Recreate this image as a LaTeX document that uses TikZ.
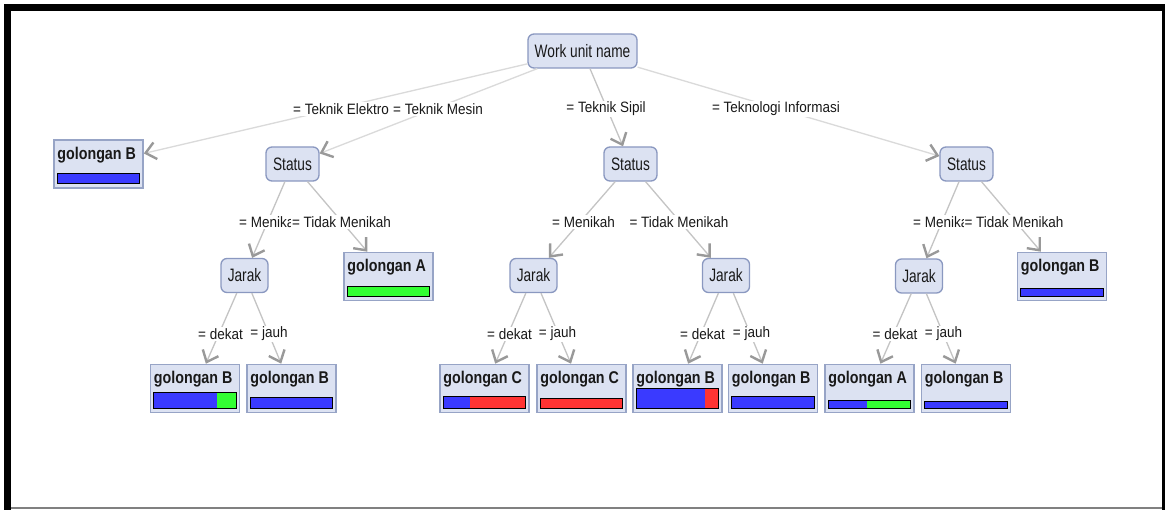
\documentclass[tikz,border=0pt]{standalone}
\usepackage{fontspec}
\setmainfont{Liberation Sans}
\newfontfamily\nfont[FakeStretch=0.76]{Liberation Sans}
\newfontfamily\lfont[FakeStretch=0.9]{Liberation Sans}
\newfontfamily\bfont[FakeStretch=0.84]{Liberation Sans}
\usetikzlibrary{arrows.meta,calc}
\definecolor{nodefill}{HTML}{DCE2F2}
\definecolor{nodedraw}{HTML}{8A98C0}
\definecolor{leafdraw}{HTML}{97A4C6}
\definecolor{barblue}{HTML}{3A3AFF}
\definecolor{bargreen}{HTML}{33FF33}
\definecolor{barred}{HTML}{FF3333}
\definecolor{edgecol}{HTML}{C4C4C4}
\definecolor{edgelight}{HTML}{DADADA}
\definecolor{arrowcol}{HTML}{999999}
\tikzset{
 inner/.style={draw=nodedraw, fill=nodefill, line width=1.3pt, rounded corners=6pt, minimum height=34pt, inner sep=0pt, font=\nfont\fontsize{18}{20}\selectfont, text=black!90},
 leafbox/.style={draw=leafdraw, fill=nodefill, line width=1.6pt, minimum width=89pt, minimum height=48pt, inner sep=0pt},
 leaftext/.style={anchor=base west, inner sep=0pt, font=\bfont\bfseries\fontsize{17}{19}\selectfont, text=black!90},
 elabel/.style={fill=white, inner sep=1pt, font=\lfont\fontsize{15}{17}\selectfont, text=black!90},
 edge/.style={draw=edgecol, line width=1.3pt, -{Straight Barb[length=10pt,width=17pt,line width=2.4pt,color=arrowcol]}},
 topedge/.style={edge, draw=edgelight},
 barline/.style={draw=black, line width=1.2pt},
}
% #1 node, #2 bar height, #3 blue fraction, #4 second colour
\newcommand\mkbar[4]{%
 \fill[barblue] ($(#1.south west)+(4,-5)$) rectangle ($(#1.south west)+(4+#3*81,-5-#2)$);
 \fill[#4] ($(#1.south west)+(4+#3*81,-5)$) rectangle ($(#1.south east)+(-4,-5-#2)$);
 \draw[barline] ($(#1.south west)+(4,-5)$) rectangle ($(#1.south east)+(-4,-5-#2)$);}
\newcommand\mkleaf[4]{% name, x, y, text
 \node[leafbox] (#1) at (#2,#3) {};
 \node[leaftext] (#1t) at ($(#1.north west)+(4,20)$) {#4};}
\begin{document}
\begin{tikzpicture}[x=1pt,y=-1pt]
\useasboundingbox (0,0) rectangle (1165,510);
\fill[white] (0,0) rectangle (1165,510);
\fill[black] (4,4) rectangle (1165,11);
\fill[black] (4,4) rectangle (11,510);
\fill[black] (1162,4) rectangle (1165,510);
\fill[gray] (11,507) rectangle (1162,509);

% inner nodes
\node[inner, minimum width=109pt] (root) at (582.5,51) {Work unit name};
\node[inner, minimum width=53pt] (sL) at (292.5,164) {Status};
\node[inner, minimum width=53pt] (sM) at (630.5,164) {Status};
\node[inner, minimum width=53pt] (sR) at (966.5,164) {Status};
\node[inner, minimum width=47pt] (jL) at (244.5,275.5) {Jarak};
\node[inner, minimum width=47pt] (jM1) at (533.5,275.5) {Jarak};
\node[inner, minimum width=47pt] (jM2) at (726,275.5) {Jarak};
\node[inner, minimum width=47pt] (jR) at (919,276) {Jarak};

% leaves
\mkleaf{g0}{98.5}{164}{golongan B}
\mkleaf{gAL}{388.5}{276.5}{golongan A}
\mkleaf{gBR}{1062}{276.5}{golongan B}
\mkleaf{l1}{195}{388.5}{golongan B}
\mkleaf{l2}{291.5}{388.5}{golongan B}
\mkleaf{m1}{484.5}{388.5}{golongan C}
\mkleaf{m2}{581.5}{388.5}{golongan C}
\mkleaf{m3}{677.5}{388.5}{golongan B}
\mkleaf{m4}{773}{388.5}{golongan B}
\mkleaf{r1}{869.5}{388.5}{golongan A}
\mkleaf{r2}{966}{388.5}{golongan B}

\mkbar{g0}{10}{1}{barblue}
\mkbar{gAL}{10}{0}{bargreen}
\mkbar{gBR}{8}{1}{barblue}
\mkbar{l1}{16}{0.78}{bargreen}
\mkbar{l2}{11}{1}{barblue}
\mkbar{m1}{12}{0.33}{barred}
\mkbar{m2}{10}{0}{barred}
\mkbar{m3}{20}{0.85}{barred}
\mkbar{m4}{12}{1}{barblue}
\mkbar{r1}{8}{0.48}{bargreen}
\mkbar{r2}{7}{1}{barblue}

% edges
\draw[topedge] (root) -- (g0);
\draw[topedge] (root) -- (sL);
\draw[edge] (root) -- (sM);
\draw[topedge] (root) -- (sR);
\draw[edge] (sL) -- (jL);
\draw[edge] (sL) -- (gAL);
\draw[edge] (sM) -- (jM1);
\draw[edge] (sM) -- (jM2);
\draw[edge] (sR) -- (jR);
\draw[edge] (sR) -- (gBR);
\draw[edge] (jL) -- (l1);
\draw[edge] (jL) -- (l2);
\draw[edge] (jM1) -- (m1);
\draw[edge] (jM1) -- (m2);
\draw[edge] (jM2) -- (m3);
\draw[edge] (jM2) -- (m4);
\draw[edge] (jR) -- (r1);
\draw[edge] (jR) -- (r2);

% edge labels
\node[elabel] (e1) at (341,109) {= Teknik Elektro};
\node[elabel] (e2) at (438,109) {= Teknik Mesin};
\node[elabel] (e3) at (606,109) {= Teknik Sipil};
\node[elabel] (e4) at (776,109) {= Teknologi Informasi};
\node[elabel, anchor=west] (e5) at (238,222) {= Menikah};
\node[elabel] (e6) at (341.5,222) {= Tidak Menikah};
\node[elabel] (e7) at (583.5,222) {= Menikah};
\node[elabel] (e8) at (679,222) {= Tidak Menikah};
\node[elabel, anchor=west] (e9) at (912,222) {= Menikah};
\node[elabel] (e10) at (1014,222) {= Tidak Menikah};
\node[elabel] (d1) at (220.5,334) {= dekat};
\node[elabel] (j1) at (269,334) {= jauh};
\node[elabel] (d2) at (509.5,334) {= dekat};
\node[elabel] (j2) at (557.5,334) {= jauh};
\node[elabel] (d3) at (702.5,334) {= dekat};
\node[elabel] (j3) at (751.5,334) {= jauh};
\node[elabel] (d4) at (895,334) {= dekat};
\node[elabel] (j4) at (943.5,334) {= jauh};
\end{tikzpicture}
\end{document}
